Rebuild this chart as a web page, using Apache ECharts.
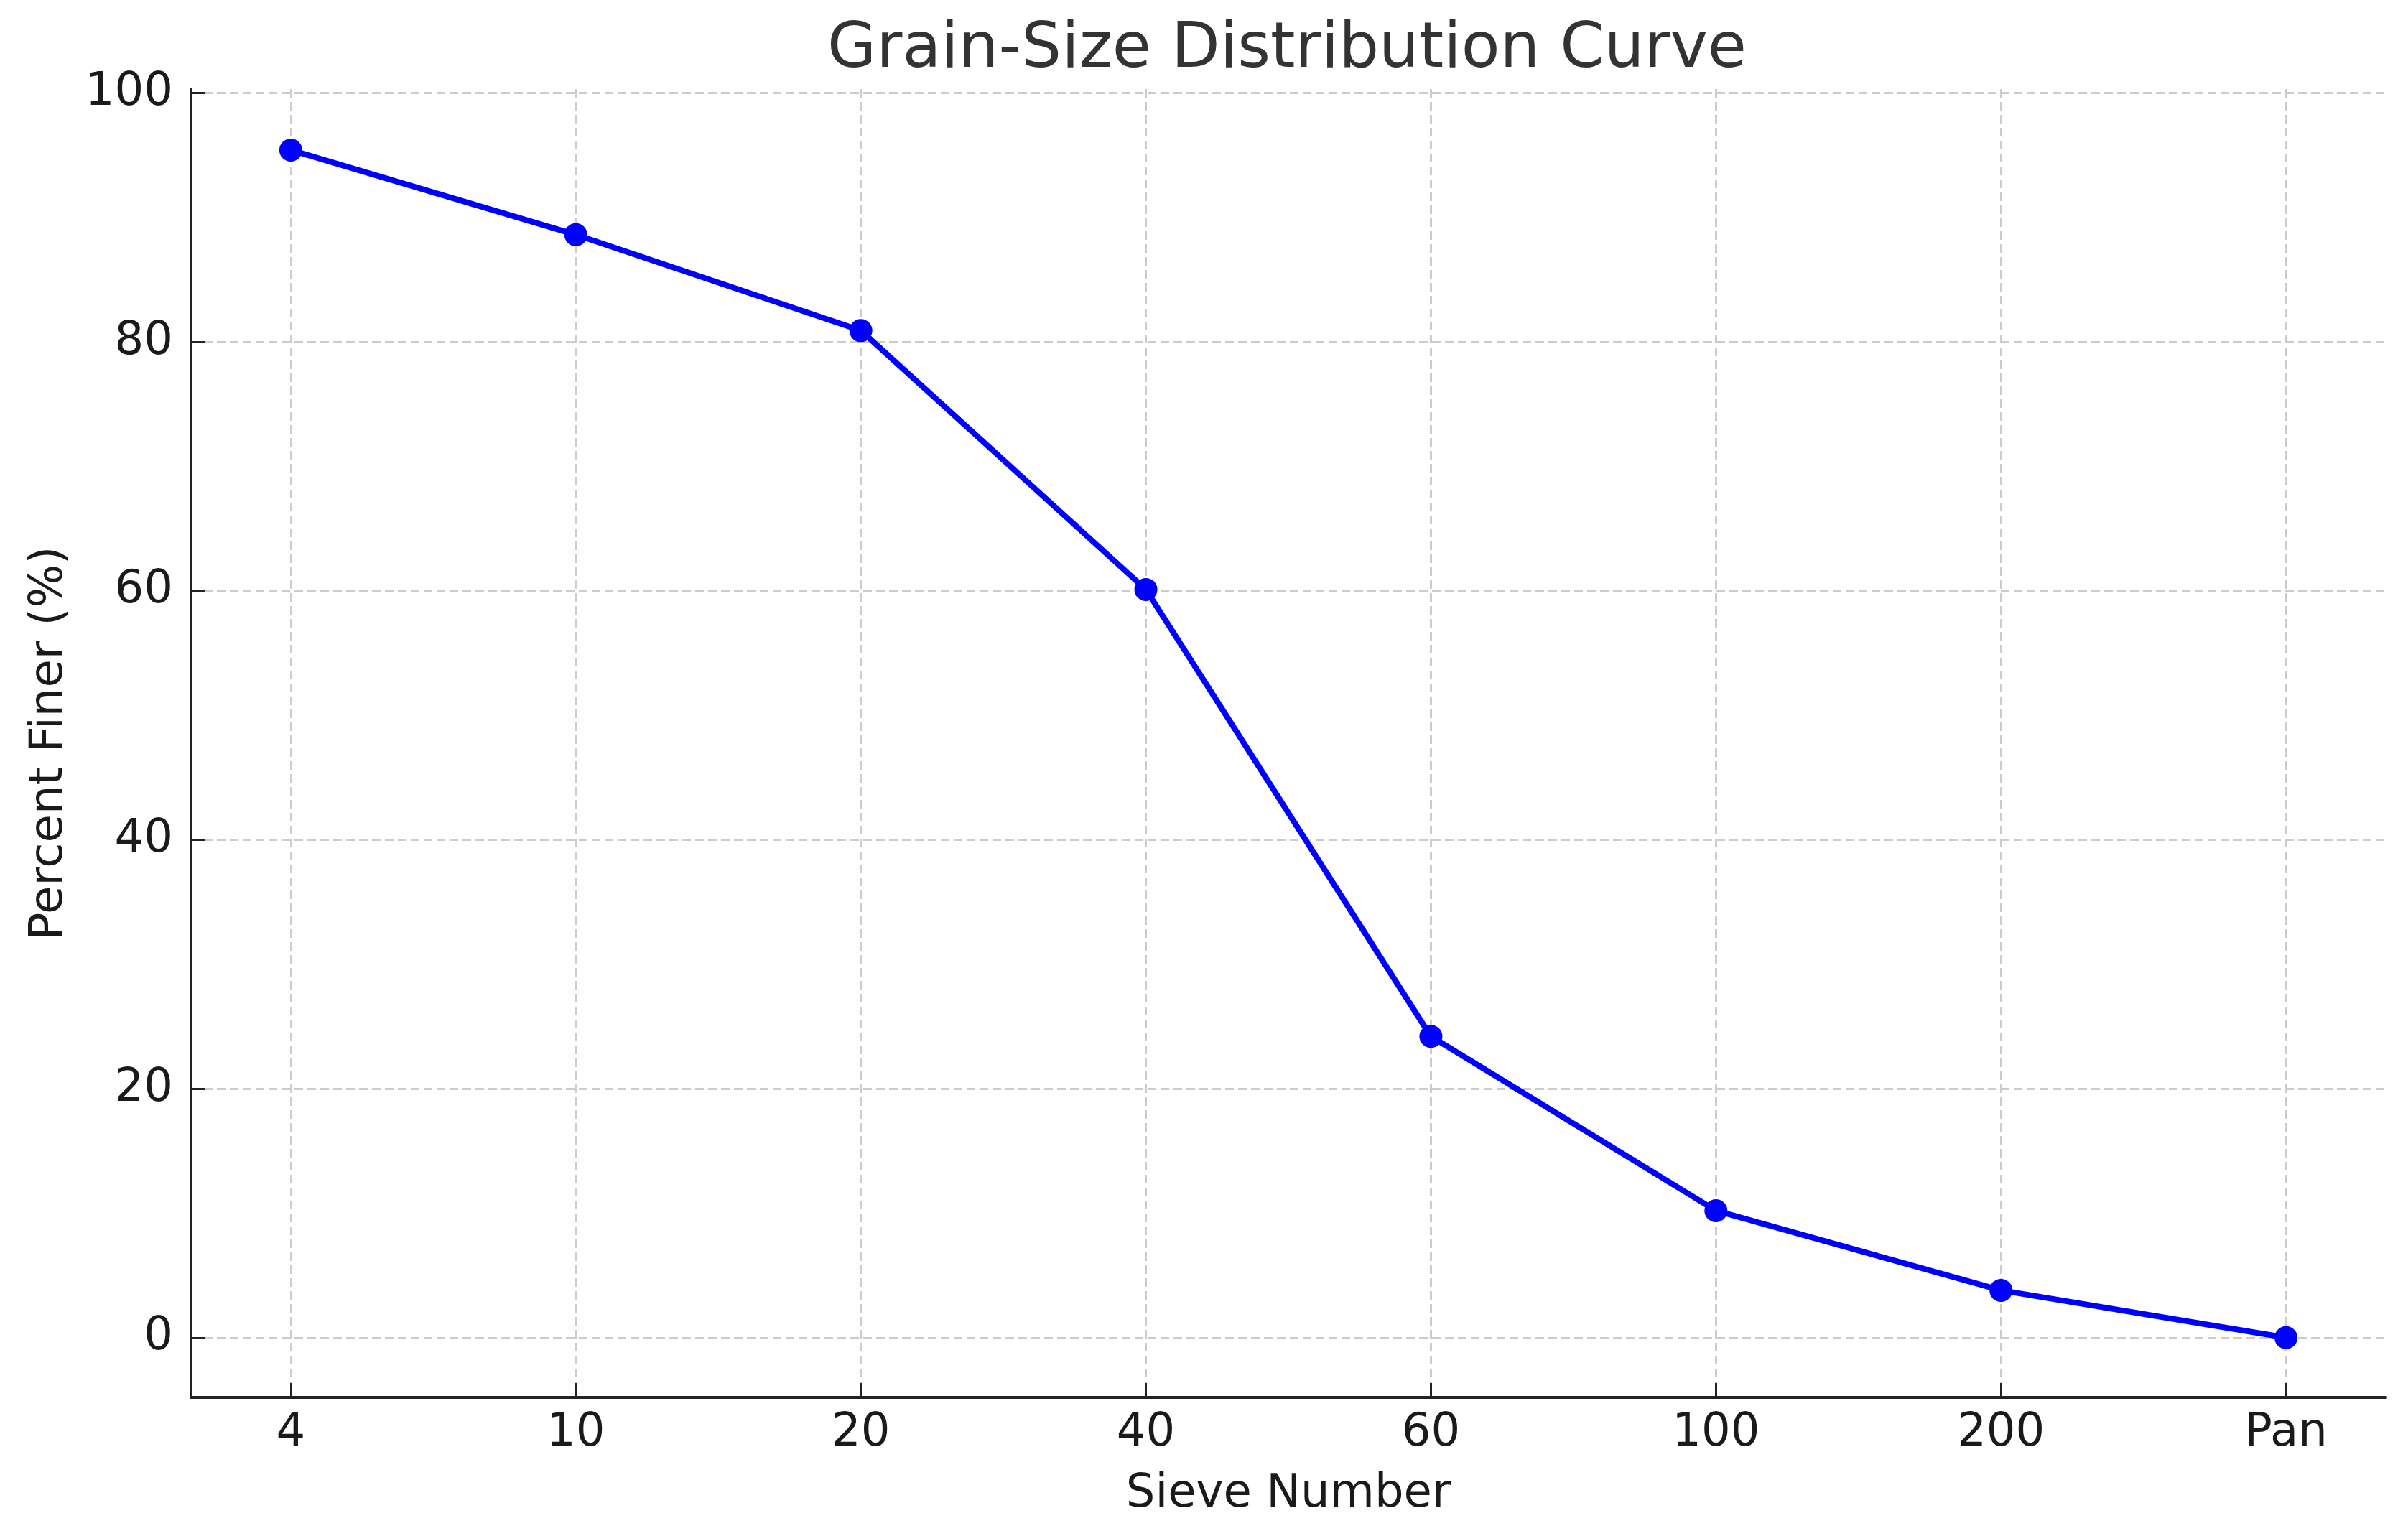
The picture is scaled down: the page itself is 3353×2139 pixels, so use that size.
<!DOCTYPE html>
<html>
<head>
<meta charset="utf-8">
<script src="https://cdn.jsdelivr.net/npm/echarts@6/dist/echarts.min.js"></script>
<style>
html,body{margin:0;padding:0;background:#fff;}
#chart{width:3353px;height:2139px;}
</style>
</head>
<body>
<div id="chart"></div>
<script>
// Data
const sieveNumbers = ['4', '10', '20', '40', '60', '100', '200', 'Pan'];
const percentFiner = [95.4, 88.6, 80.9, 60.1, 24.2, 10.2, 3.8, 0.0];
const yTicks = [0, 20, 40, 60, 80, 100];
const xTicks = sieveNumbers.map((_, i) => i);

const font = 'DejaVu Sans';
const chart = echarts.init(document.getElementById('chart'), null, {renderer: 'canvas'});

const seriesData = percentFiner.map((v, i) => [i, v]);

chart.setOption({
  backgroundColor: '#ffffff',
  animation: false,
  title: {
    text: 'Grain-Size Distribution Curve',
    left: 1792,
    top: 26,
    padding: 0,
    textAlign: 'center',
    textStyle: {fontFamily: font, fontSize: 88, fontWeight: 'normal', color: '#333333'}
  },
  grid: {left: 266, right: 31, top: 124, bottom: 193, containLabel: false},
  xAxis: {
    type: 'value',
    min: -0.35,
    max: 7.35,
    name: 'Sieve Number',
    nameLocation: 'middle',
    nameGap: 103,
    nameTextStyle: {fontFamily: font, fontSize: 64, color: '#1a1a1a'},
    axisLine: {show: true, onZero: false, lineStyle: {color: '#222222', width: 4}},
    axisTick: {show: true, inside: true, length: 20, customValues: xTicks, lineStyle: {color: '#222222', width: 3}},
    axisLabel: {
      show: true, margin: 18, customValues: xTicks,
      fontFamily: font, fontSize: 64, color: '#1a1a1a',
      formatter: v => sieveNumbers[Math.round(v)]
    },
    splitLine: {show: true, lineStyle: {color: '#cccccc', width: 3, type: [12, 6]}}
  },
  yAxis: {
    type: 'value',
    min: -4.8,
    max: 100.3,
    name: 'Percent Finer (%)',
    nameLocation: 'middle',
    nameGap: 165,
    nameRotate: 90,
    nameTextStyle: {fontFamily: font, fontSize: 64, color: '#1a1a1a'},
    axisLine: {show: true, onZero: false, lineStyle: {color: '#222222', width: 4}},
    axisTick: {show: true, inside: true, length: 19, customValues: yTicks, lineStyle: {color: '#222222', width: 3}},
    axisLabel: {show: true, margin: 25, customValues: yTicks, fontFamily: font, fontSize: 64, color: '#1a1a1a'},
    splitLine: {show: true, lineStyle: {color: '#cccccc', width: 3, type: [12, 6]}}
  },
  series: [{
    type: 'line',
    data: seriesData,
    symbol: 'circle',
    symbolSize: 32,
    lineStyle: {color: '#0000ff', width: 8},
    itemStyle: {color: '#0000ff'},
    z: 5
  }]
});
</script>
</body>
</html>
